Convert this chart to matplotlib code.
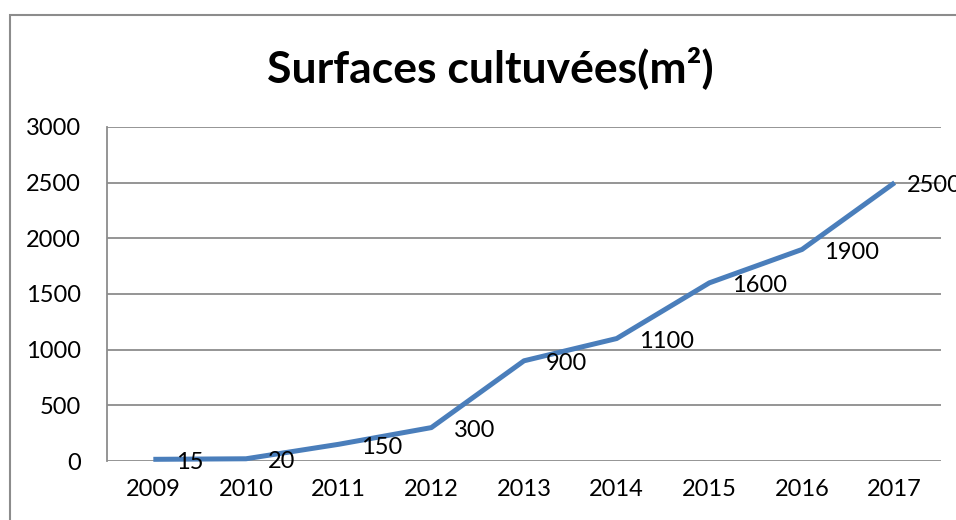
import matplotlib

matplotlib.use("Agg")
import matplotlib.pyplot as plt
from matplotlib.patches import Rectangle

years = ["2009", "2010", "2011", "2012", "2013", "2014", "2015", "2016", "2017"]
surfaces = [15, 20, 150, 300, 900, 1100, 1600, 1900, 2500]
yticks = [0, 500, 1000, 1500, 2000, 2500, 3000]

plt.rcParams["font.family"] = ["Lato", "DejaVu Sans"]

W, H = 956, 520
fig = plt.figure(figsize=(W / 100, H / 100), dpi=100)
ax = fig.add_axes([107 / W, 1 - 461 / H, (941 - 107) / W, (461 - 127) / H])

# outer chart frame (right/bottom edges fall outside the picture)
fig.patches.append(Rectangle((10 / W, -0.1), 1.2, 1 - 15 / H + 0.1, transform=fig.transFigure,
                             fill=False, edgecolor="#8c8c8c", linewidth=1.5))

x = list(range(len(years)))
ax.plot(x, surfaces, color="#4A7EBB", linewidth=3.6, solid_capstyle="butt", zorder=3, clip_on=False)
for xi, v in zip(x, surfaces):
    dx = 16 if xi < len(years) - 1 else 9
    ax.annotate(str(v), (xi, v), xytext=(dx, -2), textcoords="offset points",
                ha="left", va="center", fontsize=17, color="black", annotation_clip=False)

ax.set_xlim(-0.5, len(years) - 0.5)
ax.set_ylim(0, 3000)
ax.set_yticks(yticks)
ax.set_xticks(x)
ax.set_xticklabels(years)
ax.tick_params(axis="both", length=0, labelsize=17, colors="black")
ax.tick_params(axis="y", pad=19)
ax.tick_params(axis="x", pad=13)
ax.grid(axis="y", color="#8c8c8c", linewidth=1.3)
ax.set_axisbelow(True)
for side in ["top", "right", "bottom"]:
    ax.spines[side].set_visible(False)
ax.spines["left"].set_color("#8c8c8c")
ax.spines["left"].set_linewidth(1.3)

fig.text(490 / W, 1 - 68 / H, "Surfaces cultuvées(m²)", ha="center", va="center",
         fontsize=32, fontweight="bold")

fig.savefig("out.png", dpi=100)
